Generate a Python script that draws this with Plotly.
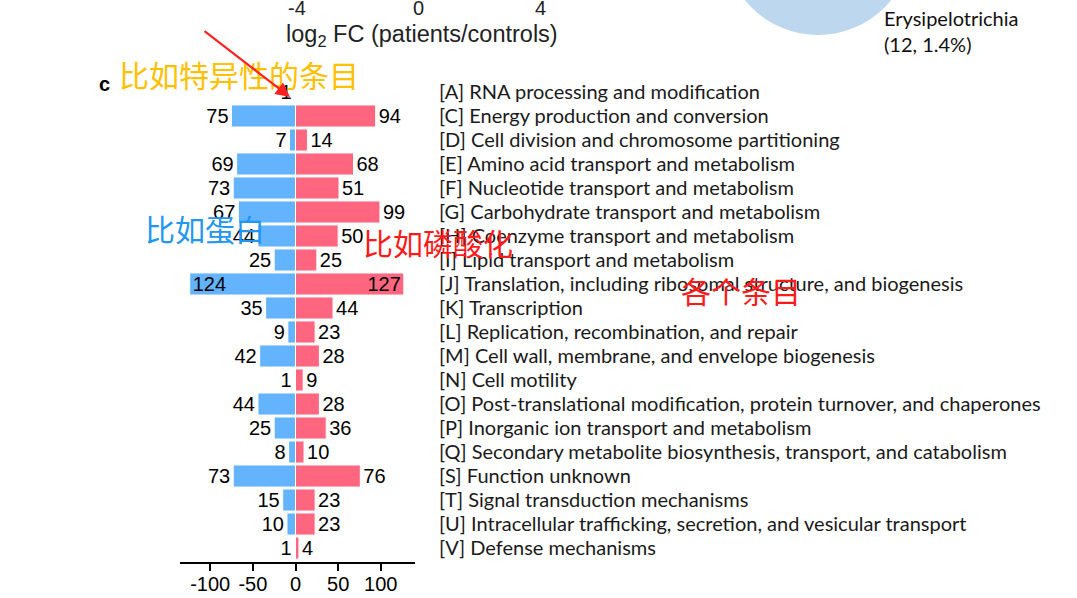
import plotly.graph_objects as go

categories = [
    "[A] RNA processing and modification",
    "[C] Energy production and conversion",
    "[D] Cell division and chromosome partitioning",
    "[E] Amino acid transport and metabolism",
    "[F] Nucleotide transport and metabolism",
    "[G] Carbohydrate transport and metabolism",
    "[H] Coenzyme transport and metabolism",
    "[I] Lipid transport and metabolism",
    "[J] Translation, including ribosomal structure, and biogenesis",
    "[K] Transcription",
    "[L] Replication, recombination, and repair",
    "[M] Cell wall, membrane, and envelope biogenesis",
    "[N] Cell motility",
    "[O] Post-translational modification, protein turnover, and chaperones",
    "[P] Inorganic ion transport and metabolism",
    "[Q] Secondary metabolite biosynthesis, transport, and catabolism",
    "[S] Function unknown",
    "[T] Signal transduction mechanisms",
    "[U] Intracellular trafficking, secretion, and vesicular transport",
    "[V] Defense mechanisms",
]
blue_values = [1, 75, 7, 69, 73, 67, 44, 25, 124, 35, 9, 42, 1, 44, 25, 8, 73, 15, 10, 1]
pink_values = [0, 94, 14, 68, 51, 99, 50, 25, 127, 44, 23, 28, 9, 28, 36, 10, 76, 23, 23, 4]
x_ticks = [-100, -50, 0, 50, 100]
x_tick_text = ["-100", "-50", "0", "50", "100"]
top_ticks = ["-4", "0", "4"]

BLUE = "#63B3FD"
PINK = "#FE6680"

W, H = 1077, 598
L, R, T, B = 180, 415, 80, 562


def px(x):
    return (x - L) / (R - L)


def py(y):
    return (B - y) / (B - T)


inside_rows = {"[J] Translation, including ribosomal structure, and biogenesis"}

blue_text = [str(v) if v else "" for v in blue_values]
pink_text = [str(v) if v else "" for v in pink_values]
pos = ["inside" if c in inside_rows else "outside" for c in categories]

num_font = dict(family="Liberation Sans, Arial", size=20, color="black")

fig = go.Figure()
fig.add_trace(go.Bar(
    y=categories, x=[-v for v in blue_values], orientation="h",
    marker=dict(color=BLUE, line=dict(color="white", width=1)),
    text=blue_text, textposition=pos, insidetextanchor="end",
    textfont=num_font, constraintext="none", cliponaxis=False,
    width=0.92, showlegend=False,
))
fig.add_trace(go.Bar(
    y=categories, x=pink_values, orientation="h",
    marker=dict(color=PINK, line=dict(color="white", width=1)),
    text=pink_text, textposition=pos, insidetextanchor="end",
    textfont=num_font, constraintext="none", cliponaxis=False,
    width=0.92, showlegend=False,
))

fig.update_layout(
    width=W, height=H, barmode="overlay",
    margin=dict(l=L, r=W - R, t=T, b=H - B, autoexpand=False),
    plot_bgcolor="white", paper_bgcolor="white",
    xaxis=dict(range=[-135.4, 140.1], tickvals=x_ticks, ticktext=x_tick_text,
               showgrid=False, zeroline=False, showline=True, linecolor="black",
               linewidth=2, ticks="outside", ticklen=7, tickwidth=2,
               tickcolor="black", ticklabelstandoff=-4,
               tickfont=dict(family="Liberation Sans, Arial", size=20, color="black")),
    yaxis=dict(categoryorder="array", categoryarray=categories,
               range=[19.583, -0.5], side="right", showgrid=False,
               zeroline=False, showline=False, ticks="",
               ticklabelstandoff=23,
               tickfont=dict(family="Lato", size=20, color="#1a1a1a")),
)


def note(text, x, y, size, color, family, xanchor="left"):
    return dict(text=text, x=px(x), y=py(y), xref="paper", yref="paper",
                xanchor=xanchor, yanchor="middle", showarrow=False,
                font=dict(family=family, size=size, color=color))


ARIAL = "Liberation Sans, Arial"
cjk = "Noto Sans CJK SC"
ann = []
for t, xx in zip(top_ticks, [297, 418, 540]):
    ann.append(note(t, xx, 8, 20, "#222", ARIAL, "center"))
ann.append(note("log<sub>2</sub> FC (patients/controls)", 284, 35, 23.5, "#222", ARIAL))
ann.append(note("<b>c</b>", 97, 84, 20, "black", ARIAL))
ann.append(note("Erysipelotrichia", 882, 18, 20, "#111", "Lato"))
ann.append(note("(12, 1.4%)", 882, 44, 20, "#111", "Lato"))
ann.append(note("比如特异性的条目", 117, 74, 30, "#FFC000", cjk))
ann.append(note("比如蛋白", 143, 228, 30, "#2196F3", cjk))
ann.append(note("比如磷酸化", 361, 242, 30, "#FF1A1A", cjk))
ann.append(note("各个条目", 679, 290, 30, "#FF1A1A", cjk))
ann.append(dict(text="", x=px(290), y=py(97), xref="paper", yref="paper",
                ax=-87, ay=-67, showarrow=True, arrowhead=2, arrowsize=1.3,
                arrowwidth=2.2, arrowcolor="#FF2020"))
fig.update_layout(annotations=ann)

fig.add_shape(type="circle", xref="paper", yref="paper",
              x0=px(724), x1=px(912), y0=py(-153), y1=py(35),
              fillcolor="#BDD7EE", line=dict(width=0), layer="below")

fig.write_html("out.html", config={"displayModeBar": False},
               post_script="document.body.style.margin='0';")
